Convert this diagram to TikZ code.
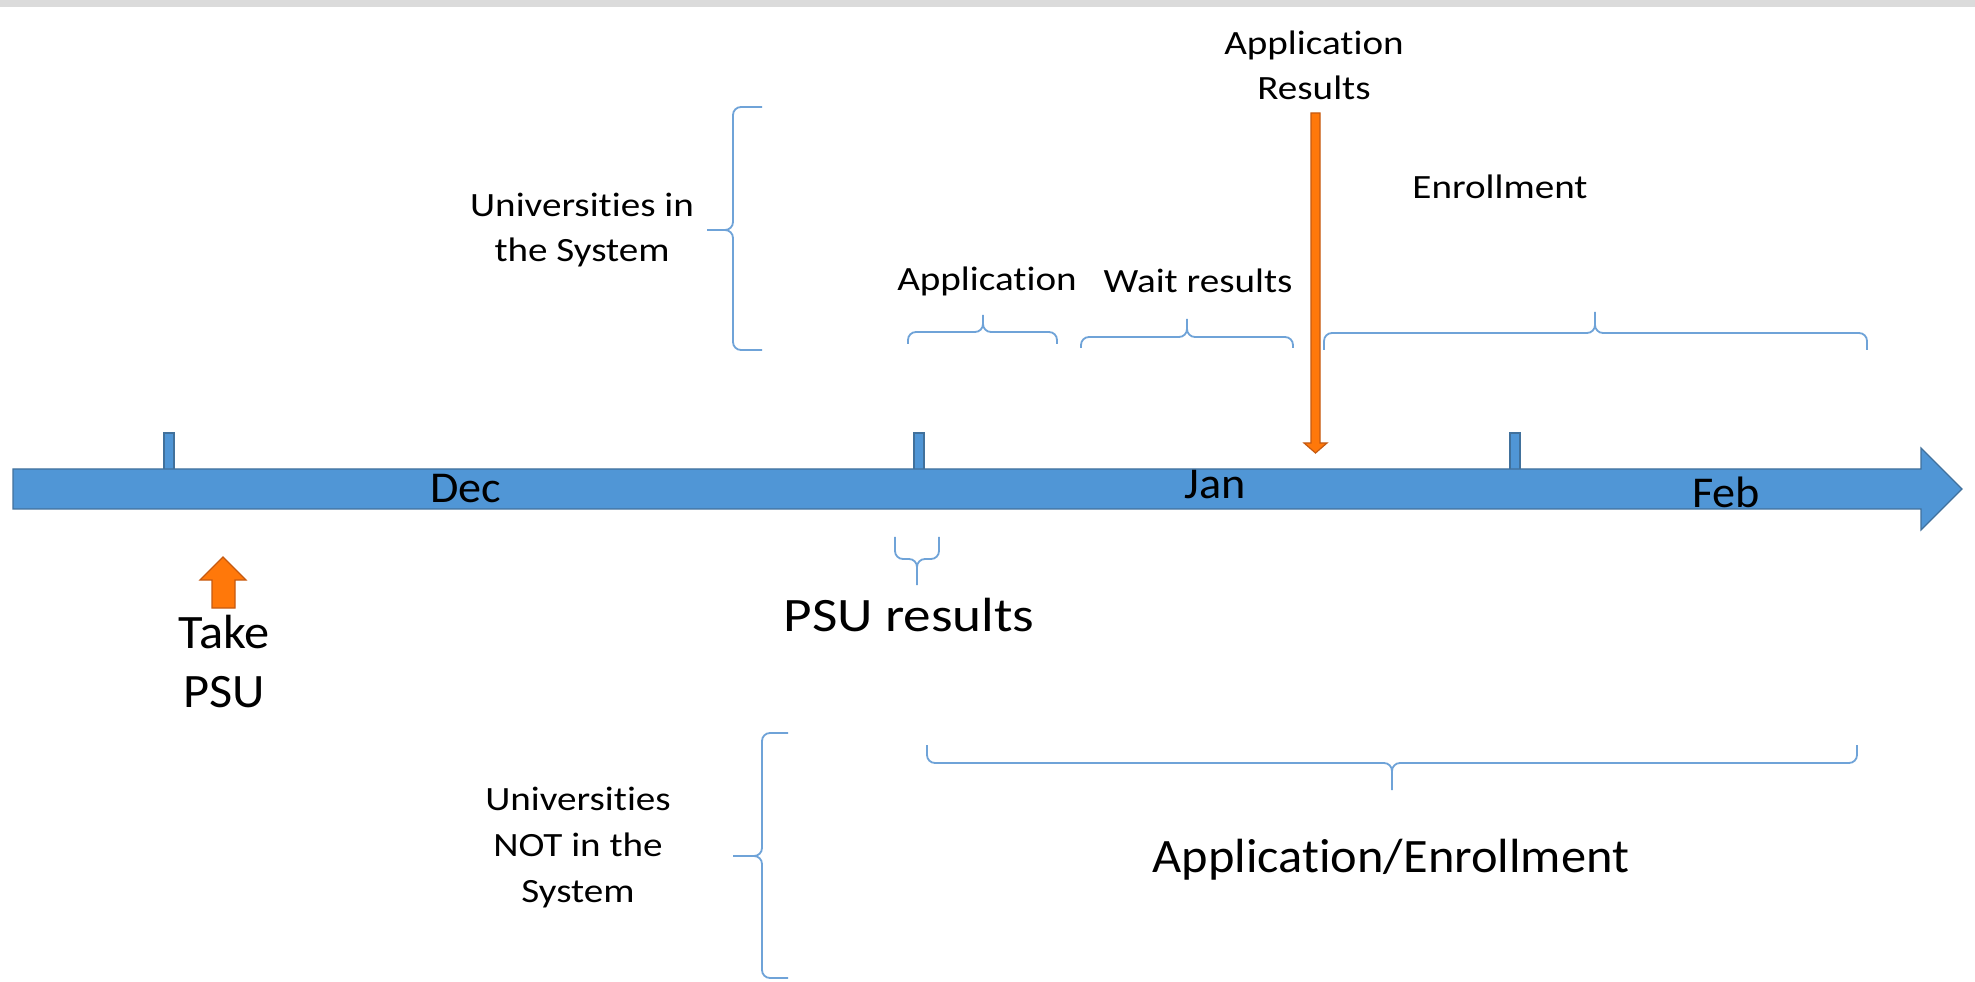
\documentclass[tikz,border=0pt]{standalone}
\usepackage{fontspec}
\setmainfont{Carlito}[FakeStretch=1.05,Ligatures=NoCommon]
\newfontfamily\widefont{Carlito}[FakeStretch=1.15,Ligatures=NoCommon]
\definecolor{barblue}{HTML}{5096D6}
\definecolor{baredge}{HTML}{41719C}
\definecolor{psuorange}{HTML}{FF780A}
\definecolor{orangeedge}{HTML}{C55A11}
\definecolor{bracecol}{HTML}{6FA3D8}
\tikzset{every node/.style={inner sep=0pt,text depth=0pt,anchor=south,align=center},
  line cap=round,line join=round,
  small/.style={font=\widefont\fontsize{17}{22.5}\selectfont},
  month/.style={font=\fontsize{22}{26}\selectfont},
  large/.style={font=\fontsize{24}{29.5}\selectfont},
  curly/.style={draw=bracecol,line width=0.9pt,rounded corners=4pt},
  blockblue/.style={fill=barblue,draw=baredge,line width=0.6pt},
  blockorange/.style={fill=psuorange,draw=orangeedge,line width=0.6pt}}

\begin{document}
\begin{tikzpicture}[x=0.5pt,y=0.5pt]
  \path[use as bounding box] (0,0) rectangle (1975,981);
  \fill[white] (0,0) rectangle (1975,981);
  \fill[black!14] (0,974) rectangle (1975,981);
  % month ticks first, the time axis goes over their feet
  \foreach \x in {164,914,1510}
    \draw[blockblue] (\x,508) rectangle ++(10,40);
  \draw[blockblue] (13,472) -- (1921,472) -- (1921,451) -- (1962,492) -- (1921,533) -- (1921,512) -- (13,512) -- cycle;
  \node[month] (dec) at (466,478) {Dec};
  \node[month] (jan) at (1215,482) {Jan};
  \node[month] (feb) at (1726,473) {Feb};

  % exam date
  \draw[blockorange] (212,373) -- (212,401) -- (200,401) -- (223,424) -- (246,401) -- (235,401) -- (235,373) -- cycle;
  \node[large] (takepsu) at (224,273) {Take\\PSU};
  \draw[curly] (895,444) |- (917,422) -- (917,396) (939,444) |- (917,422) -- (917,396);
  \node[large,font=\widefont\fontsize{24}{29.5}\selectfont] (psures) at (909,349) {PSU results};

  % universities in the system
  \draw[curly] (762,874) -| (733,751) -- (707,751) (762,631) -| (733,751) -- (707,751);
  \node[small] (insys) at (582,719) {Universities in\\the System};
  \draw[curly] (908,637) |- (983,649) -- (983,666) (1057,637) |- (983,649) -- (983,666);
  \node[small] (apply) at (987,690) {Application};
  \draw[curly] (1081,633) |- (1187,644) -- (1187,662) (1293,633) |- (1187,644) -- (1187,662);
  \node[small] (wait) at (1198,688) {Wait results};
  \node[small] (appres) at (1314,881) {Application\\Results};
  \draw[blockorange] (1311,868) -- (1320,868) -- (1320,538) -- (1327,538) -- (1315.5,528) -- (1304,538) -- (1311,538) -- cycle;
  \draw[curly] (1324,631) |- (1595,648) -- (1595,669) (1867,631) |- (1595,648) -- (1595,669);
  \node[small] (enroll) at (1500,782) {Enrollment};

  % universities outside the system
  \draw[curly] (788,248) -| (762,125) -- (733,125) (788,3) -| (762,125) -- (733,125);
  \node[small,font=\widefont\fontsize{17}{23}\selectfont] (notsys) at (578,78) {Universities\\NOT in the\\System};
  \draw[curly] (927,236) |- (1392,218) -- (1392,191) (1857,236) |- (1392,218) -- (1392,191);
  \node[large] (appenroll) at (1391,108) {Application/Enrollment};
\end{tikzpicture}
\end{document}
